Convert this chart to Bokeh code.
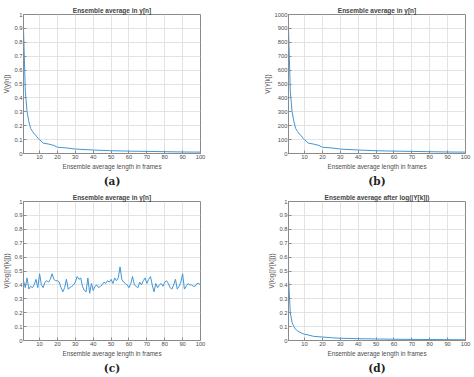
from bokeh.plotting import figure
from bokeh.layouts import column, row
from bokeh.models import Title, Range1d, FixedTicker
from bokeh.embed import file_html
from bokeh.resources import INLINE

# ---- data ----
x_dec = [1, 2, 3, 4, 5, 6, 7, 8, 9, 10, 12, 15, 18, 20, 25, 30, 40, 50, 60, 70, 80, 90, 100]
va = [0.9, 0.45, 0.3, 0.23, 0.18, 0.16, 0.14, 0.13, 0.11, 0.1, 0.075, 0.068, 0.058, 0.045,
      0.04, 0.032, 0.025, 0.02, 0.017, 0.015, 0.013, 0.011, 0.01]
vb = [900, 450, 300, 230, 180, 160, 140, 130, 110, 100, 75, 68, 58, 45,
      40, 32, 25, 20, 17, 15, 13, 11, 10]
vd = [0.45, 0.2, 0.13, 0.1, 0.08, 0.07, 0.062, 0.055, 0.05, 0.045, 0.04, 0.03, 0.027, 0.025,
      0.02, 0.016, 0.013, 0.011, 0.009, 0.008, 0.007, 0.006, 0.005]
x_c = list(range(1, 101))
vc = [0.43, 0.38, 0.45, 0.37, 0.39, 0.38, 0.40, 0.44, 0.38, 0.48,
      0.40, 0.38, 0.42, 0.43, 0.42, 0.44, 0.48, 0.44, 0.43, 0.43,
      0.42, 0.38, 0.35, 0.38, 0.44, 0.37, 0.38, 0.39, 0.40, 0.42,
      0.46, 0.44, 0.45, 0.39, 0.36, 0.35, 0.45, 0.34, 0.41, 0.36,
      0.39, 0.40, 0.38, 0.39, 0.40, 0.42, 0.41, 0.43, 0.42, 0.44,
      0.41, 0.45, 0.43, 0.45, 0.53, 0.44, 0.42, 0.41, 0.40, 0.38,
      0.41, 0.46, 0.40, 0.39, 0.38, 0.42, 0.40, 0.43, 0.45, 0.41,
      0.44, 0.46, 0.40, 0.35, 0.41, 0.38, 0.40, 0.41, 0.39, 0.42,
      0.43, 0.41, 0.38, 0.37, 0.40, 0.44, 0.37, 0.39, 0.42, 0.48,
      0.37, 0.39, 0.41, 0.40, 0.40, 0.39, 0.39, 0.41, 0.41, 0.40]
x_ticks = [10, 20, 30, 40, 50, 60, 70, 80, 90, 100]
y_ticks_unit = [0, 0.1, 0.2, 0.3, 0.4, 0.5, 0.6, 0.7, 0.8, 0.9, 1]
y_ticks_big = [0, 100, 200, 300, 400, 500, 600, 700, 800, 900, 1000]

LINE = "#4196d6"
TXT = "#4d4d4d"


def panel(title, ylabel, tag, xs, ys, ymax, yticks, left, right, top, bottom):
    p = figure(frame_width=177, frame_height=139, output_backend="svg", toolbar_location=None,
               x_range=Range1d(1, 100), y_range=Range1d(0, ymax),
               min_border_left=left, min_border_right=right, min_border_top=top,
               min_border_bottom=bottom)
    p.title.text = title
    p.title.text_font = "Arial"
    p.title.text_font_size = "6.5px"
    p.title.text_font_style = "bold"
    p.title.align = "center"
    p.title.standoff = 1
    p.title.offset = 0
    p.line(xs, ys, line_color=LINE, line_width=1)
    p.xaxis.ticker = FixedTicker(ticks=x_ticks)
    p.yaxis.ticker = FixedTicker(ticks=yticks)
    p.xaxis.axis_label = "Ensemble average length in frames"
    p.yaxis.axis_label = ylabel
    for ax in (p.xaxis[0], p.yaxis[0]):
        ax.major_label_text_font = "Arial"
        ax.major_label_text_font_size = "5.8px"
        ax.major_label_text_color = TXT
        ax.axis_label_text_font = "Arial"
        ax.axis_label_text_font_size = "6.3px"
        ax.axis_label_text_font_style = "normal"
        ax.axis_label_text_color = TXT
        ax.axis_line_color = "#8a8a8a"
        ax.major_tick_in = 3
        ax.major_tick_out = 0
        ax.minor_tick_line_color = None
        ax.major_tick_line_color = "#8a8a8a"
        ax.major_label_standoff = 1
        ax.axis_label_standoff = 1
    p.grid.grid_line_color = "#e3e3e3"
    p.xgrid.ticker = FixedTicker(ticks=x_ticks)
    p.ygrid.ticker = FixedTicker(ticks=yticks)
    p.outline_line_color = "#8a8a8a"
    p.background_fill_color = "white"
    t = Title(text=tag, align="center", text_font="DejaVu Serif", text_font_size="10.5px",
              text_font_style="bold", text_color="#222222", standoff=0, offset=0)
    p.add_layout(t, "below")
    return p


pa = panel("Ensemble average in y[n]", "V(y[n])", "(a)", x_dec, va, 1, y_ticks_unit, 22, 38, 14, 34)
pb = panel("Ensemble average in y[n]", "V(Y[k])", "(b)", x_dec, vb, 1000, y_ticks_big, 50, 10, 14, 34)
pc = panel("Ensemble average in y[n]", "V(log(|Y[k]|))", "(c)", x_c, vc, 1, y_ticks_unit, 22, 38, 14, 34)
pd_ = panel("Ensemble average after log(|Y[k]|)", "V(log(|Y[k]|))", "(d)", x_dec, vd, 1, y_ticks_unit, 50, 10, 14, 34)

layout = column(row(pa, pb), row(pc, pd_))
open("out.html", "w").write(file_html(layout, INLINE))
